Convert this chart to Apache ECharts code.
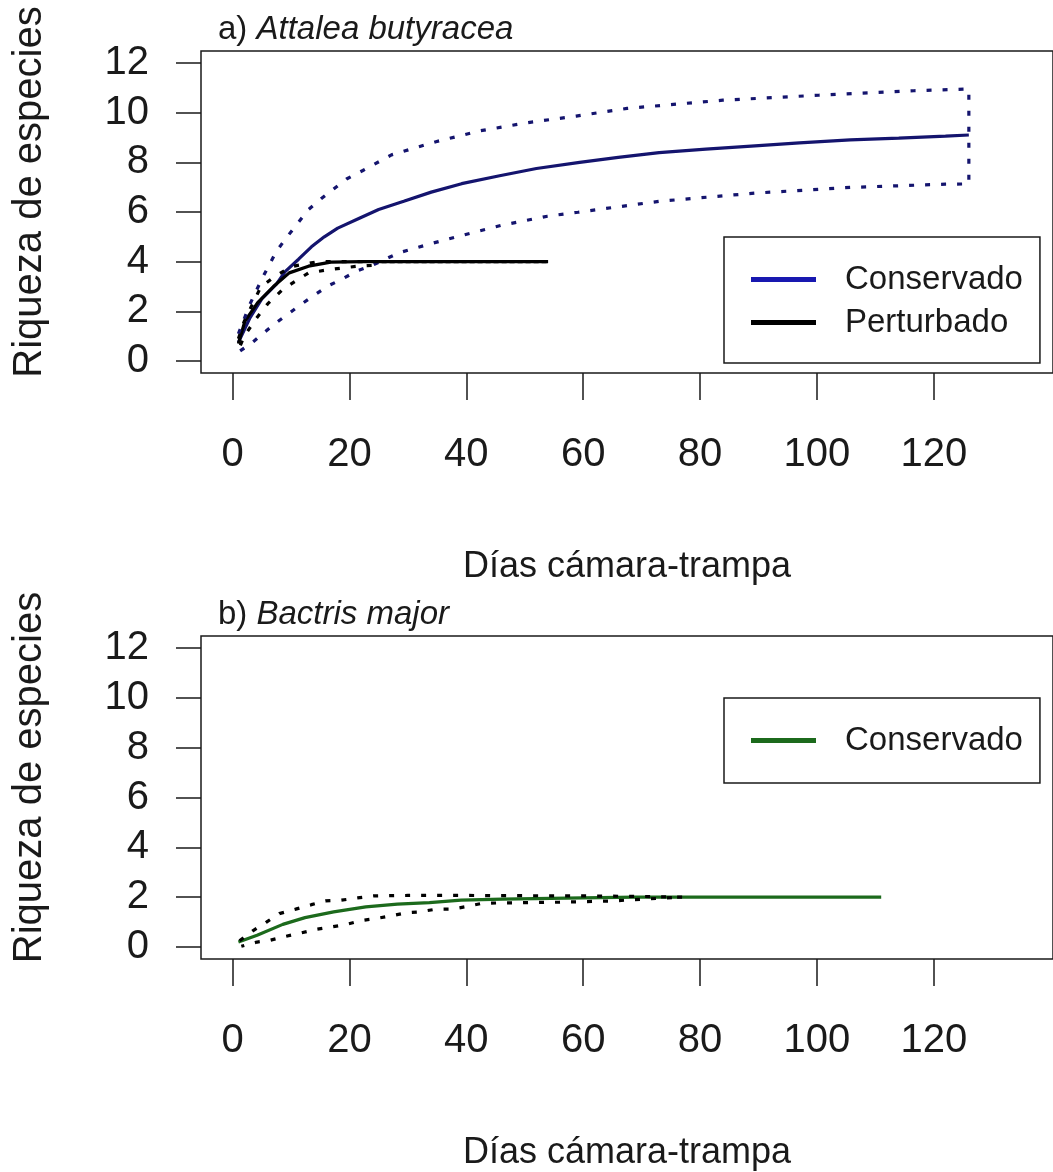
<!DOCTYPE html>
<html>
<head>
<meta charset="utf-8">
<script src="https://cdn.jsdelivr.net/npm/echarts@6/dist/echarts.min.js"></script>
<style>
html,body{margin:0;padding:0;background:#fff;}
#c{width:1053px;height:1172px;}
</style>
</head>
<body>
<div id="c"></div>
<script>
// ---------- tick labels ----------
const xTicks = [0, 20, 40, 60, 80, 100, 120];
const yTicks = [0, 2, 4, 6, 8, 10, 12];

// ---------- a) Attalea butyracea ----------
// Conservado (mean)
const aConsX = [1, 3, 5, 7.5, 9, 11.3, 13.5, 15.7, 18, 21.7, 25, 29.3, 34, 39.2, 45.7, 52, 59.4, 66, 73, 81, 89.4, 97, 105.7, 114, 122, 126];
const aConsY = [0.75, 1.75, 2.5, 3.1, 3.6, 4.1, 4.6, 5.0, 5.35, 5.75, 6.1, 6.43, 6.8, 7.14, 7.46, 7.75, 8.0, 8.2, 8.39, 8.53, 8.66, 8.78, 8.9, 8.97, 9.05, 9.1];
// Conservado upper / lower bounds
const aConsUpX = [1, 3, 5, 7.5, 9.4, 11.3, 13, 15.2, 19.5, 22.3, 27.2, 34.8, 42.4, 50.6, 58.8, 67.5, 83.9, 100.3, 116.6, 126];
const aConsUpY = [1.1, 2.3, 3.3, 4.42, 5.02, 5.59, 6.1, 6.54, 7.33, 7.67, 8.3, 8.83, 9.27, 9.6, 9.86, 10.17, 10.5, 10.7, 10.88, 10.95];
const aConsLoX = [1, 3.4, 5.5, 7.5, 9.4, 11.6, 13.8, 16.3, 18.7, 21.2, 23.6, 28.5, 33.4, 38.6, 46.3, 53.9, 59.1, 73, 89.4, 105.7, 122, 126];
const aConsLoY = [0.36, 0.75, 1.17, 1.55, 1.88, 2.26, 2.62, 3.02, 3.29, 3.62, 3.82, 4.36, 4.69, 5.02, 5.48, 5.83, 5.99, 6.43, 6.76, 6.99, 7.12, 7.13];
// Perturbado (mean)
const aPertX = [1, 2.1, 4.3, 7, 9.7, 13, 16.8, 22.3, 54];
const aPertY = [0.7, 1.6, 2.35, 3.0, 3.55, 3.82, 3.98, 4.0, 4.0];
// Perturbado upper / lower bounds
const aPertUpX = [1, 2, 4.8, 7, 10, 14.6, 54];
const aPertUpY = [0.9, 1.6, 2.97, 3.37, 3.8, 4.0, 4.0];
const aPertLoX = [1, 2, 4, 6, 8.6, 10.5, 13, 16.8, 21.4, 24, 25, 54];
const aPertLoY = [0.45, 1.0, 1.7, 2.3, 2.89, 3.18, 3.55, 3.69, 3.82, 3.85, 4.0, 4.0];

// ---------- b) Bactris major ----------
const bConsX = [1, 4.2, 8.6, 12.4, 17.3, 22.8, 28.2, 33.7, 39.1, 46.2, 59.9, 69, 111];
const bConsY = [0.2, 0.47, 0.91, 1.18, 1.41, 1.61, 1.72, 1.78, 1.88, 1.92, 1.97, 2.0, 2.0];
const bUpX = [1.2, 3.4, 5.8, 8, 10.8, 13.5, 15.9, 18.6, 21.4, 24.1, 30, 40, 50, 60, 70, 77];
const bUpY = [0.25, 0.64, 1.0, 1.34, 1.52, 1.7, 1.85, 1.88, 1.97, 2.05, 2.07, 2.07, 2.06, 2.05, 2.03, 2.0];
const bLoX = [1.5, 4.2, 6.4, 9.1, 11.6, 14.3, 16.8, 19.5, 22.2, 24.4, 27.1, 29.6, 32, 34.8, 37.5, 39.7, 42.4, 45.4, 50, 56, 65, 71, 77];
const bLoY = [0.03, 0.2, 0.27, 0.43, 0.56, 0.71, 0.8, 0.91, 1.07, 1.14, 1.25, 1.37, 1.41, 1.52, 1.52, 1.61, 1.74, 1.77, 1.78, 1.8, 1.85, 1.93, 2.0];

// ---------- helpers ----------
const zip = (xs, ys) => xs.map((x, i) => [x, ys[i]]);
const band = (ux, uy, lx, ly) => zip(ux, uy).concat(zip(lx, ly).reverse());

const FONT = "'Liberation Sans', Arial, Helvetica, sans-serif";
const INK = '#1a1a1a';
const NAVY = '#14146e';
const GREEN = '#1c6a1c';

function xAxisCfg(gi) {
  return {
    type: 'value', gridIndex: gi, min: -5.4, max: 140.4,
    axisLine: {show: false, onZero: false},
    splitLine: {show: false},
    axisTick: {show: true, inside: false, length: 27, customValues: xTicks, lineStyle: {color: INK, width: 1.5}},
    axisLabel: {show: true, customValues: xTicks, margin: 62, fontSize: 40, color: INK, fontFamily: FONT},
    name: 'Días cámara-trampa', nameLocation: 'middle', nameGap: 176,
    nameTextStyle: {fontSize: 36, color: INK, fontFamily: FONT}
  };
}
function yAxisCfg(gi) {
  return {
    type: 'value', gridIndex: gi, min: -0.48, max: 12.48,
    axisLine: {show: false, onZero: false},
    splitLine: {show: false},
    axisTick: {show: true, inside: false, length: 25, customValues: yTicks, lineStyle: {color: INK, width: 1.5}},
    axisLabel: {show: true, customValues: yTicks, margin: 52, fontSize: 40, color: INK, fontFamily: FONT},
    name: 'Riqueza de especies', nameLocation: 'middle', nameRotate: 90, nameGap: 151,
    nameTextStyle: {fontSize: 40, color: INK, fontFamily: FONT, padding: [0, 0, 0, 40]}
  };
}
function lineSeries(name, xi, data, color, dotted) {
  return {
    name: name, type: 'line', xAxisIndex: xi, yAxisIndex: xi, data: data,
    symbol: 'none', showSymbol: false, smooth: false, silent: true,
    lineStyle: dotted
      ? {color: color, width: 3.2, type: [5, 11], cap: 'butt'}
      : {color: color, width: 3.2},
    z: dotted ? 3 : 2
  };
}
const legendText = {fontSize: 33, lineHeight: 33, padding: [0, 0, 0, 24], color: INK, fontFamily: FONT};
const titleRich = {
  n: {fontSize: 33, fontWeight: 'normal', color: INK, fontFamily: FONT},
  i: {fontSize: 33, fontWeight: 'normal', fontStyle: 'italic', color: INK, fontFamily: FONT}
};

const option = {
  animation: false,
  backgroundColor: '#fff',
  title: [
    {left: 213, top: 8, text: '{n|a) }{i|Attalea butyracea}', textStyle: {fontWeight: 'normal', rich: titleRich}},
    {left: 213, top: 593, text: '{n|b) }{i|Bactris major}', textStyle: {fontWeight: 'normal', rich: titleRich}}
  ],
  grid: [
    {left: 201, top: 51, width: 891, height: 322, show: true, borderColor: INK, borderWidth: 1.5, backgroundColor: 'transparent'},
    {left: 201, top: 636, width: 891, height: 323, show: true, borderColor: INK, borderWidth: 1.5, backgroundColor: 'transparent'}
  ],
  xAxis: [xAxisCfg(0), xAxisCfg(1)],
  yAxis: [yAxisCfg(0), yAxisCfg(1)],
  legend: [
    {left: 724, top: 237, orient: 'vertical', borderColor: INK, borderWidth: 1.5, borderRadius: 0,
     padding: [26, 17, 24, 27], itemWidth: 65, itemHeight: 5, itemGap: 10, icon: 'rect', selectedMode: false,
     data: [{name: 'Conservado', itemStyle: {color: '#1818b0'}}, {name: 'Perturbado', itemStyle: {color: '#000'}}],
     formatter: n => '{a|' + n + '}', textStyle: {rich: {a: legendText}}},
    {left: 724, top: 698, orient: 'vertical', borderColor: INK, borderWidth: 1.5, borderRadius: 0,
     padding: [26, 17, 26, 27], itemWidth: 65, itemHeight: 5, itemGap: 10, icon: 'rect', selectedMode: false,
     data: [{name: 'Conservado (b)', itemStyle: {color: GREEN}}],
     formatter: () => '{a|Conservado}', textStyle: {rich: {a: legendText}}}
  ],
  series: [
    lineSeries('Conservado', 0, zip(aConsX, aConsY), NAVY, false),
    lineSeries('Perturbado', 0, zip(aPertX, aPertY), '#000', false),
    lineSeries('IC Conservado', 0, band(aConsUpX, aConsUpY, aConsLoX, aConsLoY), NAVY, true),
    lineSeries('IC Perturbado', 0, band(aPertUpX, aPertUpY, aPertLoX, aPertLoY), '#000', true),
    lineSeries('Conservado (b)', 1, zip(bConsX, bConsY), GREEN, false),
    lineSeries('IC Conservado (b)', 1, band(bUpX, bUpY, bLoX, bLoY), '#000', true)
  ]
};
const chart = echarts.init(document.getElementById('c'), null, {renderer: 'canvas'});
chart.setOption(option);
</script>
</body>
</html>
